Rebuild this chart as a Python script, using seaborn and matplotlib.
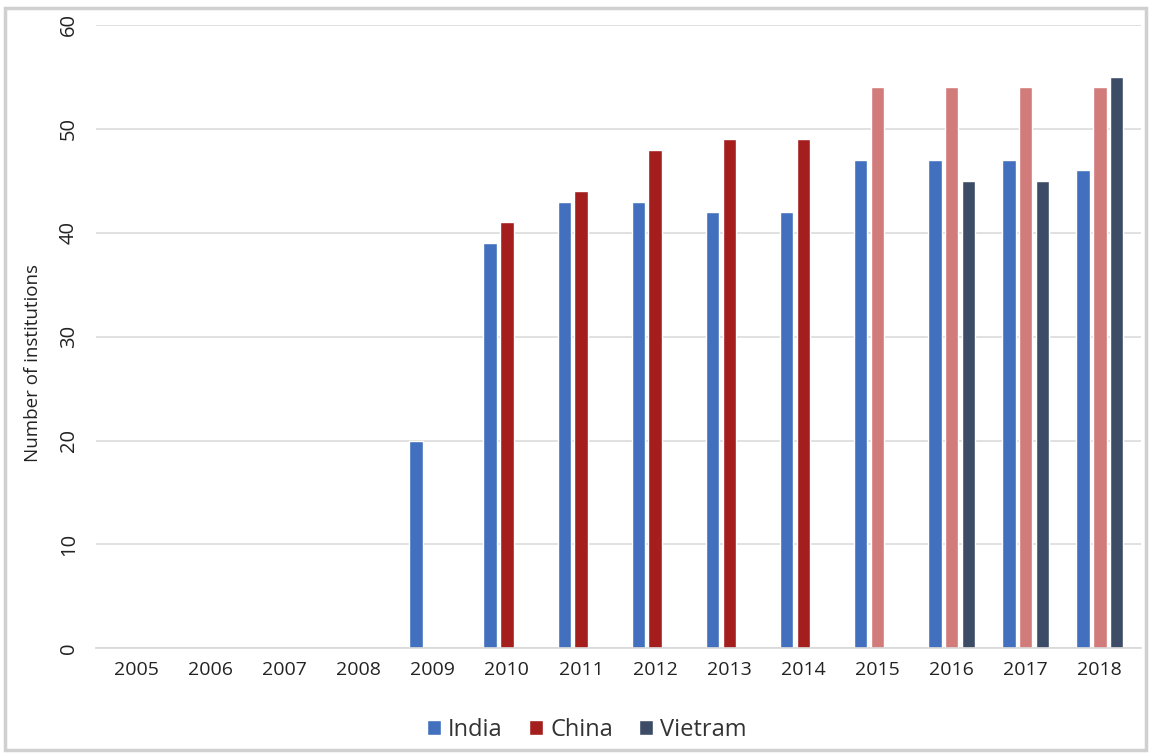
import numpy as np
import pandas as pd
import matplotlib
matplotlib.use("Agg")
import matplotlib.pyplot as plt
from matplotlib.patches import Rectangle
import seaborn as sns

years = ["2005", "2006", "2007", "2008", "2009", "2010", "2011",
         "2012", "2013", "2014", "2015", "2016", "2017", "2018"]
india = [np.nan, np.nan, np.nan, np.nan, 20, 39, 43, 43, 42, 42, 47, 47, 47, 46]
china = [np.nan, np.nan, np.nan, np.nan, np.nan, 41, 44, 48, 49, 49, 54, 54, 54, 54]
vietnam = [np.nan, np.nan, np.nan, np.nan, np.nan, np.nan, np.nan, np.nan,
           np.nan, np.nan, np.nan, 45, 45, 55]
series_names = ["India", "China", "Vietram"]
light_china_years = ["2015", "2016", "2017", "2018"]

rows = []
for name, vals in zip(series_names, [india, china, vietnam]):
    for y, v in zip(years, vals):
        rows.append({"Year": y, "Country": name, "Value": v})
df = pd.DataFrame(rows)

sns.set_theme(style="white")
plt.rcParams["font.family"] = ["Open Sans", "DejaVu Sans"]

palette = {"India": "#4270BE", "China": "#A51E1E", "Vietram": "#3D4C66"}
light_china = "#D27B7B"

fig = plt.figure(figsize=(11.51, 7.53), dpi=100)
ax = fig.add_axes([0.083, 0.139, 0.908, 0.828])

sns.barplot(data=df, x="Year", y="Value", hue="Country", order=years,
            hue_order=series_names, palette=palette, width=0.68, gap=0.2,
            errorbar=None, ax=ax, legend=True, saturation=1)

# lighter China bars for later years (match by category position)
china_container = ax.containers[1]
for bar in china_container:
    idx = int(round(bar.get_x() + bar.get_width() / 2))
    if years[idx] in light_china_years:
        bar.set_facecolor(light_china)

ax.set_ylim(0, 60)
ax.set_xlim(-0.55, len(years) - 0.45)
ax.set_yticks(range(0, 61, 10))
ax.yaxis.grid(True, color="#DCDCDC", linewidth=1.2)
ax.set_axisbelow(True)
for s in ["top", "right", "left"]:
    ax.spines[s].set_visible(False)
ax.spines["bottom"].set_color("#D8D8D8")
ax.spines["bottom"].set_linewidth(1.2)

ax.tick_params(axis="y", labelsize=14.5, rotation=90, length=0, pad=12,
               labelcolor="#222222")
for lbl in ax.get_yticklabels():
    lbl.set_va("center")
ax.tick_params(axis="x", labelsize=14, length=0, pad=9, labelcolor="#222222")
ax.set_xlabel("")
ax.set_ylabel("Number of institutions", fontsize=13.5, color="#222222")
ax.yaxis.set_label_coords(-0.051, 0.457)

leg = ax.legend(loc="upper center", bbox_to_anchor=(0.47, -0.077), ncol=3,
                frameon=False, fontsize=17, handlelength=0.6, handleheight=0.6,
                handletextpad=0.3, columnspacing=1.1, labelcolor="#333333")

fig.patches.append(Rectangle((0.004, 0.004), 0.992, 0.985,
                             transform=fig.transFigure, fill=False,
                             edgecolor="#D0D0D0", linewidth=2.5))

fig.savefig("out.png", dpi=100)
